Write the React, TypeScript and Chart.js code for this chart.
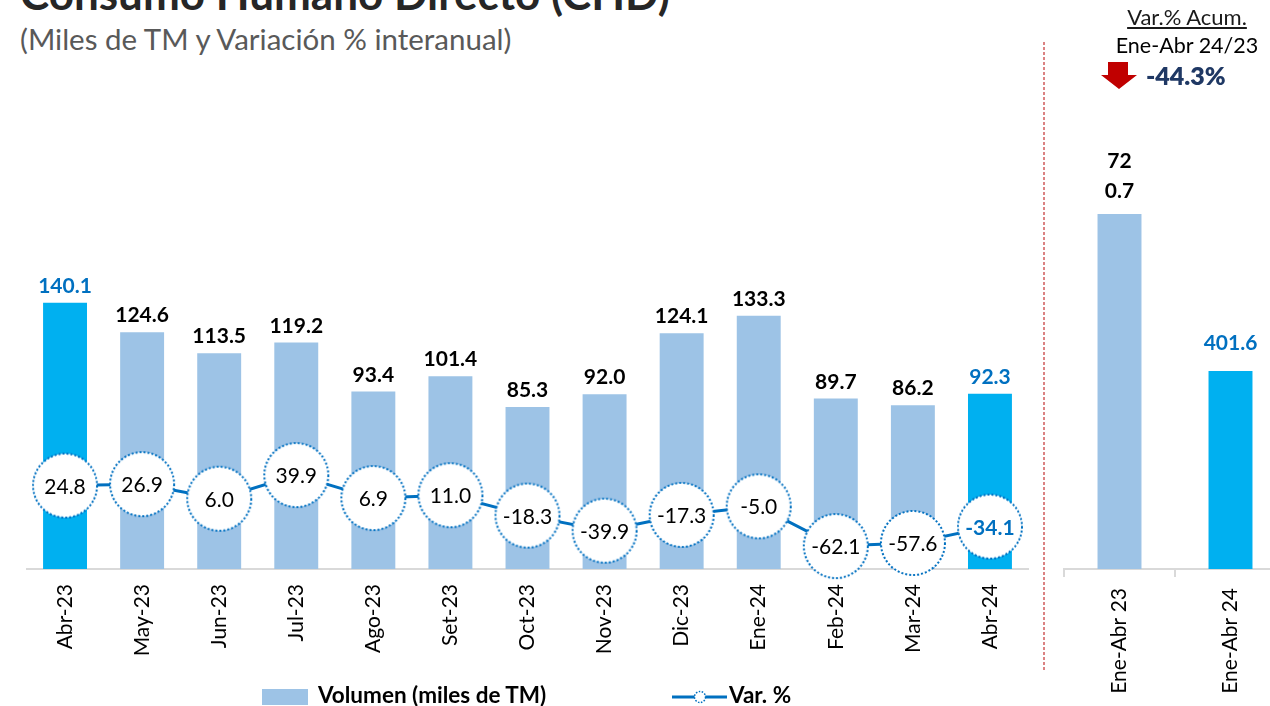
import React, { useEffect, useRef } from "react";
import { Chart, registerables } from "chart.js";

Chart.register(...registerables);

// ---------- data ----------
const months = ["Abr-23", "May-23", "Jun-23", "Jul-23", "Ago-23", "Set-23", "Oct-23", "Nov-23", "Dic-23", "Ene-24", "Feb-24", "Mar-24", "Abr-24"];
const volumen = [140.1, 124.6, 113.5, 119.2, 93.4, 101.4, 85.3, 92.0, 124.1, 133.3, 89.7, 86.2, 92.3];
const variacion = [24.8, 26.9, 6.0, 39.9, 6.9, 11.0, -18.3, -39.9, -17.3, -5.0, -62.1, -57.6, -34.1];
const accCategories = ["Ene-Abr 23", "Ene-Abr 24"];
const accVolumen = [720.7, 401.6];
const accVariacion = -44.3;

const LIGHT = "#9DC3E6";
const CYAN = "#00B0F0";
const BLUE = "#0070C0";
const AXIS = "#D9D9D9";
const FONT = "Lato";

function makeCircle(r: number, lw: number) {
  const size = 2 * r + 4;
  const c = document.createElement("canvas");
  c.width = size;
  c.height = size;
  const g = c.getContext("2d")!;
  g.beginPath();
  g.arc(size / 2, size / 2, r, 0, Math.PI * 2);
  g.fillStyle = "#fff";
  g.fill();
  g.setLineDash([2, 2]);
  g.lineWidth = lw;
  g.strokeStyle = BLUE;
  g.stroke();
  return c;
}

const leftLabels = {
  id: "leftLabels",
  afterDatasetsDraw(chart: any) {
    const ctx = chart.ctx;
    const last = volumen.length - 1;
    ctx.save();
    ctx.textAlign = "center";
    ctx.textBaseline = "alphabetic";
    chart.getDatasetMeta(0).data.forEach((el: any, i: number) => {
      ctx.font = `bold 21px ${FONT}`;
      ctx.fillStyle = i === 0 || i === last ? BLUE : "#000";
      ctx.fillText(volumen[i].toFixed(1), el.x, el.y - 10);
    });
    chart.getDatasetMeta(1).data.forEach((el: any, i: number) => {
      const isLast = i === last;
      ctx.font = `${isLast ? "bold " : ""}21px ${FONT}`;
      ctx.fillStyle = isLast ? BLUE : "#000";
      ctx.fillText(variacion[i].toFixed(1), el.x, el.y + 8);
    });
    ctx.restore();
  },
};

const rightLabels = {
  id: "rightLabels",
  afterDatasetsDraw(chart: any) {
    const ctx = chart.ctx;
    ctx.save();
    ctx.textAlign = "center";
    ctx.textBaseline = "alphabetic";
    ctx.font = `bold 21px ${FONT}`;
    chart.getDatasetMeta(0).data.forEach((el: any, i: number) => {
      const txt = accVolumen[i].toFixed(1);
      const lines = i === 0 ? [txt.slice(0, 2), txt.slice(2)] : [txt];
      ctx.fillStyle = i === accVolumen.length - 1 ? BLUE : "#000";
      const base = el.y - (lines.length > 1 ? 16 : 21);
      lines.forEach((ln, k) => ctx.fillText(ln, el.x, base - (lines.length - 1 - k) * 30));
    });
    ctx.restore();
  },
};

export default function App() {
  const leftRef = useRef<HTMLCanvasElement>(null);
  const rightRef = useRef<HTMLCanvasElement>(null);

  useEffect(() => {
    const last = volumen.length - 1;
    const circle = makeCircle(32, 2);
    const left = new Chart(leftRef.current!, {
      type: "bar",
      data: {
        labels: months,
        datasets: [
          {
            type: "bar",
            label: "Volumen (miles de TM)",
            data: volumen,
            backgroundColor: volumen.map((_, i) => (i === 0 || i === last ? CYAN : LIGHT)),
            barPercentage: 0.57,
            categoryPercentage: 1,
            yAxisID: "y",
            order: 2,
          },
          {
            type: "line",
            label: "Var. %",
            data: variacion,
            borderColor: BLUE,
            borderWidth: 3,
            pointStyle: circle as any,
            pointRadius: 32,
            tension: 0,
            clip: false,
            yAxisID: "y2",
            order: 1,
          },
        ],
      },
      options: {
        responsive: false,
        animation: false,
        devicePixelRatio: 1,
        layout: { autoPadding: false, padding: { top: 94, left: 26.5, right: 11.5, bottom: 0 } },
        plugins: { legend: { display: false }, tooltip: { enabled: false } },
        scales: {
          x: {
            offset: true,
            grid: { display: false, drawTicks: false },
            border: { display: true, color: AXIS, width: 2 },
            ticks: {
              minRotation: 90,
              maxRotation: 90,
              padding: 15,
              color: "#000",
              font: { family: FONT, size: 21 },
              autoSkip: false,
            },
            afterFit: (s: any) => {
              s.height = 137;
              s.paddingLeft = 0;
              s.paddingRight = 0;
            },
          },
          y: { display: false, min: 0, max: 250 },
          y2: { display: false, min: -95, max: 587.5 },
        },
      },
      plugins: [leftLabels],
    });

    const right = new Chart(rightRef.current!, {
      type: "bar",
      data: {
        labels: accCategories,
        datasets: [
          {
            label: "Acumulado",
            data: accVolumen,
            backgroundColor: [LIGHT, CYAN],
            barPercentage: 0.396,
            categoryPercentage: 1,
          },
        ],
      },
      options: {
        responsive: false,
        animation: false,
        devicePixelRatio: 1,
        layout: { autoPadding: false, padding: { top: 94, left: 10, right: 0, bottom: 0 } },
        plugins: { legend: { display: false }, tooltip: { enabled: false } },
        scales: {
          x: {
            offset: true,
            grid: { display: true, drawOnChartArea: false, drawTicks: true, tickLength: 8, color: AXIS, lineWidth: 2 },
            border: { display: true, color: AXIS, width: 2 },
            ticks: {
              minRotation: 90,
              maxRotation: 90,
              padding: 11,
              color: "#000",
              font: { family: FONT, size: 21 },
            },
            afterFit: (s: any) => {
              s.height = 137;
              s.paddingLeft = 0;
              s.paddingRight = 0;
            },
          },
          y: { display: false, min: 0, max: 964 },
        },
      },
      plugins: [rightLabels],
    });

    return () => {
      left.destroy();
      right.destroy();
    };
  }, []);

  const abs = (o: React.CSSProperties): React.CSSProperties => ({ position: "absolute", whiteSpace: "nowrap", ...o });

  return (
    <div style={{ position: "absolute", left: 0, top: 0, width: 1270, height: 706, overflow: "hidden", background: "#fff", fontFamily: FONT }}>
      <div style={abs({ left: 20, top: -29, fontSize: 44, lineHeight: "44px", fontWeight: 700, color: "#262626" })}>
        Consumo Humano Directo (CHD)
      </div>
      <div style={abs({ left: 20, top: 23.5, fontSize: 29.5, lineHeight: "29.5px", color: "#595959" })}>
        (Miles de TM y Variación % interanual)
      </div>

      <canvas ref={leftRef} width={1040} height={706} style={{ position: "absolute", left: 0, top: 0 }} />
      <canvas ref={rightRef} width={232} height={706} style={{ position: "absolute", left: 1054, top: 0 }} />

      <svg width={4} height={630} style={{ position: "absolute", left: 1042, top: 42 }}>
        <line x1={2} y1={0} x2={2} y2={628} stroke="#D05A5A" strokeWidth={1.5} strokeDasharray="3 2" />
      </svg>

      <div style={abs({ left: 1087, width: 200, textAlign: "center", top: 5, fontSize: 22, lineHeight: "24px", color: "#1a1a1a", textDecoration: "underline" })}>
        Var.% Acum.
      </div>
      <div style={abs({ left: 1087, width: 200, textAlign: "center", top: 33, fontSize: 21.5, lineHeight: "24px", color: "#000" })}>
        Ene-Abr 24/23
      </div>
      <svg width={36} height={27} style={{ position: "absolute", left: 1101, top: 62 }}>
        <polygon points="7,0 27,0 27,13 36,13 18,27 0,13 7,13" fill="#C00000" />
      </svg>
      <div style={abs({ left: 1146, top: 61, fontSize: 25, lineHeight: "28px", fontWeight: 800, color: "#1F3864" })}>
        {accVariacion.toFixed(1)}%
      </div>

      <div style={abs({ left: 262, top: 689, width: 46, height: 16, background: LIGHT })} />
      <div style={abs({ left: 318, top: 683, fontSize: 22.5, lineHeight: "24px", fontWeight: 700, color: "#000" })}>
        Volumen (miles de TM)
      </div>
      <svg width={56} height={16} style={{ position: "absolute", left: 672, top: 689 }}>
        <line x1={0} y1={8} x2={55} y2={8} stroke={BLUE} strokeWidth={3} />
        <circle cx={28} cy={8} r={5.5} fill="#fff" stroke={BLUE} strokeWidth={1.5} strokeDasharray="1.5 1.5" />
      </svg>
      <div style={abs({ left: 729, top: 683, fontSize: 22.5, lineHeight: "24px", fontWeight: 700, color: "#000" })}>
        Var. %
      </div>
    </div>
  );
}
